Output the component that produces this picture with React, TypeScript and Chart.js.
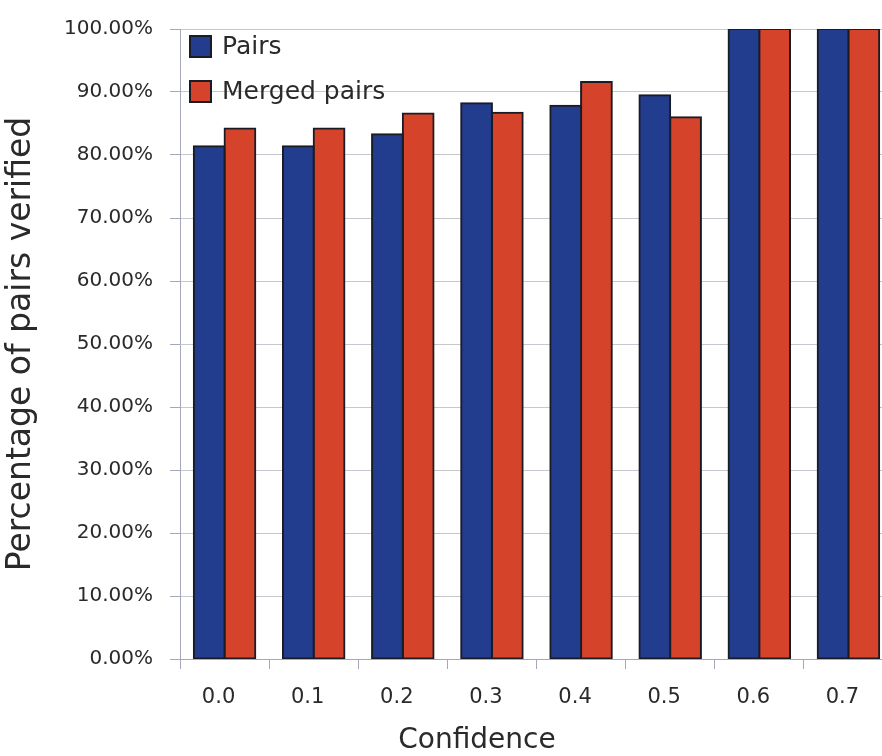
import React, { useEffect, useRef } from 'react';
import { Chart, registerables } from 'chart.js';

Chart.register(...registerables);

// Confidence thresholds along the x axis
const confidenceLevels = ['0.0', '0.1', '0.2', '0.3', '0.4', '0.5', '0.6', '0.7'];

// Share of pairs verified at each threshold (percent)
const pairsVerified = [81.4, 81.4, 83.3, 88.2, 87.8, 89.5, 100, 100];
const mergedPairsVerified = [84.2, 84.2, 86.6, 86.7, 91.6, 86.0, 100, 100];

const seriesNames = ['Pairs', 'Merged pairs'];
const xAxisTitle = 'Confidence';
const yAxisTitle = 'Percentage of pairs verified';

const FONT = '"DejaVu Sans", "Liberation Sans", sans-serif';
const TEXT = '#2a2a2a';

// Legend boxes drawn in the top-left corner of the plot, plus the x-axis caption.
const insideLegend = {
  id: 'insideLegend',
  afterDatasetsDraw(chart: any) {
    const { ctx, chartArea } = chart;
    ctx.save();
    chart.data.datasets.forEach((ds: any, i: number) => {
      const x = chartArea.left + 9;
      const y = chartArea.top + 6 + i * 45;
      ctx.fillStyle = ds.backgroundColor;
      ctx.fillRect(x, y, 23, 23);
      ctx.lineWidth = 2;
      ctx.strokeStyle = ds.borderColor;
      ctx.strokeRect(x + 1, y + 1, 21, 21);
      ctx.fillStyle = TEXT;
      ctx.font = `25px ${FONT}`;
      ctx.textAlign = 'left';
      ctx.textBaseline = 'middle';
      ctx.fillText(ds.label, x + 33, y + 12);
    });
    ctx.font = `28px ${FONT}`;
    ctx.textAlign = 'center';
    ctx.textBaseline = 'middle';
    ctx.fillStyle = TEXT;
    ctx.fillText(xAxisTitle, chartArea.left + 297, chartArea.bottom + 82);
    ctx.restore();
  },
};

export default function App() {
  const canvasRef = useRef<HTMLCanvasElement>(null);

  useEffect(() => {
    const chart = new Chart(canvasRef.current!, {
      type: 'bar',
      data: {
        labels: confidenceLevels,
        datasets: [
          {
            label: seriesNames[0],
            data: pairsVerified,
            backgroundColor: '#233d8e',
            borderColor: '#1b1b26',
            borderWidth: 2,
            borderSkipped: false,
            inflateAmount: 1,
          },
          {
            label: seriesNames[1],
            data: mergedPairsVerified,
            backgroundColor: '#d5442a',
            borderColor: '#1b1b26',
            borderWidth: 2,
            borderSkipped: false,
            inflateAmount: 1,
          },
        ],
      },
      options: {
        responsive: false,
        animation: false,
        devicePixelRatio: 1,
        layout: { padding: { left: 0, top: 26, right: 27, bottom: 0 } },
        datasets: {
          bar: { categoryPercentage: 0.69, barPercentage: 1 },
        },
        plugins: {
          legend: { display: false },
          tooltip: { enabled: false },
        },
        scales: {
          x: {
            afterFit: (s: any) => {
              s.height = 97;
            },
            grid: {
              offset: true,
              drawOnChartArea: false,
              drawTicks: true,
              tickLength: 10,
              tickColor: '#a4a8b8',
            },
            border: { display: true, color: '#a4a8b8', width: 1 },
            ticks: {
              color: TEXT,
              font: { family: FONT, size: 21 },
              padding: 16,
              labelOffset: -6,
            },
          },
          y: {
            min: 0,
            max: 100,
            afterFit: (s: any) => {
              s.width = 180;
            },
            grid: {
              color: '#c6c8d0',
              lineWidth: 1,
              drawTicks: true,
              tickLength: 10,
              tickColor: '#a4a8b8',
            },
            border: { display: true, color: '#a4a8b8', width: 1 },
            ticks: {
              stepSize: 10,
              color: TEXT,
              font: { family: FONT, size: 20 },
              padding: 17,
              callback: (v: any) => Number(v).toFixed(2) + '%',
            },
            title: {
              display: true,
              text: yAxisTitle,
              color: TEXT,
              font: { family: FONT, size: 33 },
              padding: { top: 2, bottom: 0 },
            },
          },
        },
      },
      plugins: [insideLegend],
    });
    return () => chart.destroy();
  }, []);

  return (
    <div
      style={{
        position: 'fixed',
        left: 0,
        top: 0,
        width: 882,
        height: 756,
        overflow: 'hidden',
        background: '#ffffff',
      }}
    >
      <canvas
        ref={canvasRef}
        width={920}
        height={756}
        style={{ display: 'block', width: 920, height: 756 }}
      />
    </div>
  );
}
